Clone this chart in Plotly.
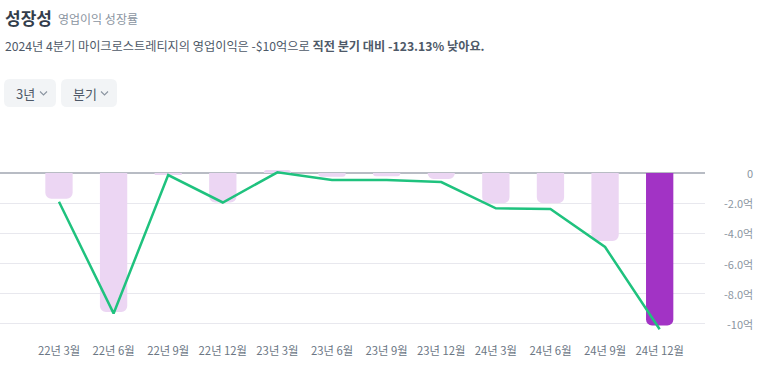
import plotly.graph_objects as go

categories = ["22년 3월", "22년 6월", "22년 9월", "22년 12월", "23년 3월", "23년 6월",
              "23년 9월", "23년 12월", "24년 3월", "24년 6월", "24년 9월", "24년 12월"]
bar_values = [-1.7, -9.2, -0.1, -1.95, 0.2, -0.25, -0.22, -0.4, -2.0, -2.0, -4.5, -10.1]
line_values = [-1.9, -9.3, -0.13, -1.95, 0.05, -0.46, -0.46, -0.6, -2.34, -2.38, -4.9, -10.35]
tick_vals = [0, -2, -4, -6, -8, -10]
tick_text = ["0", "-2.0억", "-4.0억", "-6.0억", "-8.0억", "-10억"]

W, H = 773, 377
ML, MR, MT, MB = 0, 68, 140, 42
PW, PH = W - ML - MR, H - MT - MB

def px(x):
    return (x - ML) / PW

def py(y):
    return (H - MB - y) / PH

FONT = "Noto Sans CJK KR"
bar_colors = ["#ecd6f3"] * (len(categories) - 1) + ["#a233c5"]

fig = go.Figure()
fig.add_trace(go.Bar(x=categories, y=bar_values, marker=dict(color=bar_colors, line=dict(width=0)),
                     width=0.5, hoverinfo="skip"))
fig.add_trace(go.Scatter(x=categories, y=line_values, mode="lines",
                         line=dict(color="#1fc27e", width=2.5), hoverinfo="skip"))

annotations = []
# y tick labels (right aligned)
for v, t in zip(tick_vals, tick_text):
    annotations.append(dict(x=px(755), y=v, xref="paper", yref="y", text=t, showarrow=False,
                            xanchor="right", yanchor="middle",
                            font=dict(family=FONT, size=11, color="#8b95a1")))
# header
annotations.append(dict(x=px(3), y=py(17), xref="paper", yref="paper", text="<b>성장성</b>",
                        showarrow=False, xanchor="left", yanchor="middle",
                        font=dict(family=FONT, size=17, color="#333d4b")))
annotations.append(dict(x=px(56), y=py(18.5), xref="paper", yref="paper", text="영업이익 성장률",
                        showarrow=False, xanchor="left", yanchor="middle",
                        font=dict(family=FONT, size=12, color="#8b95a1")))
annotations.append(dict(x=px(3), y=py(46), xref="paper", yref="paper",
                        text="2024년 4분기 마이크로스트레티지의 영업이익은 -$10억으로 <b>직전 분기 대비 -123.13% 낮아요.</b>",
                        showarrow=False, xanchor="left", yanchor="middle",
                        font=dict(family=FONT, size=12.2, color="#4e5968")))

shapes = []

def rrect(x0, y0, x1, y1, r=6):
    X = lambda v: px(v)
    Y = lambda v: py(v)
    return (f"M {X(x0+r)},{Y(y0)} L {X(x1-r)},{Y(y0)} Q {X(x1)},{Y(y0)} {X(x1)},{Y(y0+r)} "
            f"L {X(x1)},{Y(y1-r)} Q {X(x1)},{Y(y1)} {X(x1-r)},{Y(y1)} "
            f"L {X(x0+r)},{Y(y1)} Q {X(x0)},{Y(y1)} {X(x0)},{Y(y1-r)} "
            f"L {X(x0)},{Y(y0+r)} Q {X(x0)},{Y(y0)} {X(x0+r)},{Y(y0)} Z")

buttons = [("3년", 4, 56), ("분기", 61, 117)]
for label, x0, x1 in buttons:
    shapes.append(dict(type="path", xref="paper", yref="paper", path=rrect(x0, 79, x1, 107),
                       fillcolor="#f2f4f6", line=dict(width=0), layer="below"))
    annotations.append(dict(x=px(x0 + 10), y=py(93), xref="paper", yref="paper", text=label,
                            showarrow=False, xanchor="left", yanchor="middle",
                            font=dict(family=FONT, size=13, color="#4e5968")))
    cx = x1 - 12.5
    shapes.append(dict(type="path", xref="paper", yref="paper",
                       path=f"M {px(cx-3.5)},{py(91.5)} L {px(cx)},{py(95)} L {px(cx+3.5)},{py(91.5)}",
                       line=dict(color="#8b95a1", width=1.1)))

fig.update_layout(
    width=W, height=H,
    margin=dict(l=ML, r=MR, t=MT, b=MB),
    paper_bgcolor="white", plot_bgcolor="white",
    showlegend=False,
    barcornerradius=6,
    annotations=annotations,
    shapes=shapes,
    xaxis=dict(type="category", range=[-1.08, 11.83], showgrid=False, zeroline=False,
               showline=False, ticks="", ticklabelstandoff=8,
               tickfont=dict(family=FONT, size=11.3, color="#6b7684")),
    yaxis=dict(range=[-10.73, 2.19], tickvals=tick_vals, showticklabels=False,
               gridcolor="#e8e8ee", gridwidth=1, zeroline=True, zerolinecolor="#b8bcc4",
               zerolinewidth=1.5, showline=False),
)

fig.write_html("out.html", config={"displayModeBar": False},
               post_script="document.body.style.margin='0';document.body.style.overflow='hidden';")
